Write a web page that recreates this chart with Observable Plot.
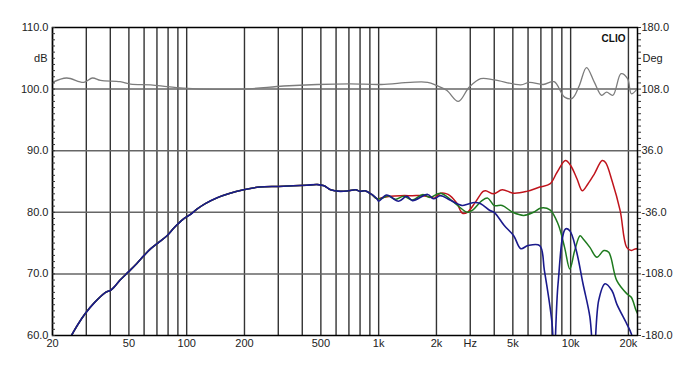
<!DOCTYPE html>
<html><head><meta charset="utf-8">
<script src="https://cdn.jsdelivr.net/npm/d3@7"></script>
<script src="https://cdn.jsdelivr.net/npm/@observablehq/plot@0.6"></script>
<style>body{margin:0;background:#fff}</style>
</head><body><div id="chart"></div>
<script>
// Shared low-frequency response (all three curves coincide)
const lowFreq = [24,25.1,27,29.7,33,37.8,40,42,45,50,55,60,65,72,79,86,96,104,113,125,144,165,198,240,300,360,420,480,520,562,630,700,760,800,850,920,980];
const lowDb   = [59.0,60.0,61.7,63.6,65.3,67.0,67.3,67.9,69.0,70.4,71.7,73.0,74.1,75.2,76.2,77.5,78.9,79.6,80.5,81.4,82.35,83.0,83.65,84.1,84.2,84.3,84.4,84.5,84.3,83.65,83.4,83.5,83.65,83.4,83.5,82.9,82.2];

const redFreq = [1050,1150,1300,1500,1700,1850,1950,2100,2300,2550,2730,2900,3200,3500,3612,3975,4400,5050,5900,6900,7800,8500,9400,10000,10800,11500,12300,13300,14600,15200,16400,18100,19600,20700,21900,22300];
const redDb   = [82.4,82.6,82.7,82.7,82.7,82.5,82.3,83.1,82.9,81.5,79.85,80.0,81.7,83.4,83.5,83.0,83.65,83.1,83.4,84.1,84.6,86.5,88.4,87.6,85.4,83.5,84.6,86.25,88.4,88.1,85.2,80.3,74.3,73.8,74.1,74.0];

const greenFreq = [1050,1120,1220,1350,1500,1700,1850,2100,2450,2900,3100,3450,3700,4000,4400,5000,5700,6400,7000,7800,8600,9300,9900,10500,11200,11600,12600,13700,14900,15800,17400,19600,20700,21900,22300];
const greenDb   = [82.3,82.7,82.1,82.6,82.0,82.9,82.4,83.1,81.7,80.0,80.4,81.9,82.3,81.1,81.1,80.0,79.5,80.0,80.7,80.4,78.1,74.3,70.8,73.8,76.2,75.7,74.3,72.7,73.8,73.5,68.9,66.8,66.2,64.1,63.6];

const blueFreq = [1000,1100,1270,1400,1500,1800,1930,2100,2350,2720,2900,3160,3400,3800,4000,4500,5050,5500,6000,6900,7300,8000,8200,8600,9400,9900,10700,11600,12600,13200,14000,15100,16400,17400,19600,20700,21500];
const blueDb   = [81.8,82.8,81.8,82.6,81.9,82.9,82.2,82.7,82.0,81.1,81.3,81.6,81.4,80.3,80.0,77.9,76.2,74.1,74.6,74.6,70.55,62.0,56.0,68.4,77.3,77.0,73.8,68.4,63.0,56.0,65.7,68.4,67.3,65.1,61.9,60.3,58.0];

// Gray (phase-like) trace, plotted on the dB scale
const grayFreq = [20,23.7,29.1,32.3,35.6,45,51,65,79,96,117,198,320,478,713,1030,1460,1800,2000,2260,2600,2960,3400,4000,5500,6100,7200,8200,9300,10200,11100,12100,13300,14500,15400,16600,18300,19800,20700,21900];
const grayDb   = [101.1,101.8,101.1,101.8,101.4,101.2,100.8,100.7,100.4,100.15,100.0,100.0,100.5,100.75,100.85,100.75,101.1,101.1,100.6,99.8,98.0,100.3,101.7,101.5,100.7,101.1,100.75,101.2,98.7,98.5,100.6,103.5,101.1,99.0,99.5,99.0,102.5,101.7,99.25,99.8];

const xTickValues = [20,50,100,200,500,1000,2000,3000,5000,10000,20000];
const xTickLabels = ["20","50","100","200","500","1k","2k","Hz","5k","10k","20k"];
const gridFreqs = [20,30,40,50,60,70,80,90,100,200,300,400,500,600,700,800,900,1000,2000,3000,4000,5000,6000,7000,8000,9000,10000,20000];
const yTicks = [60,70,80,90,100,110];
const yLabels = ["60.0","70.0","80.0","90.0","100.0","110.0"];
const degLabels = ["-180.0","-108.0","-36.0","36.0","108.0","180.0"];
const gridDb = [70,80,90,100];
const minorDb = d3.range(60,111,1);

const rows = (f, v) => f.map((d, i) => ({f: d, db: v[i]}));
const low = rows(lowFreq, lowDb);
const red = low.concat(rows(redFreq, redDb));
const green = low.concat(rows(greenFreq, greenDb));
const blue = low.concat(rows(blueFreq, blueDb));
const gray = rows(grayFreq, grayDb);
const xTicks = xTickValues.map((v, i) => ({v, label: xTickLabels[i]}));
const yLeft = yTicks.map((v, i) => ({v, label: yLabels[i]}));
const yRight = yTicks.map((v, i) => ({v, label: degLabels[i]}));

const chart = Plot.plot({
  width: 690, height: 389,
  marginLeft: 52, marginRight: 53, marginTop: 27, marginBottom: 54,
  style: {fontFamily: "'Liberation Sans', Arial, sans-serif", fontSize: "11px", color: "#222", background: "#fff"},
  x: {type: "log", domain: [20, 22300], label: null, axis: null},
  y: {domain: [60, 110], label: null, axis: null},
  marks: [
    Plot.ruleX(gridFreqs, {stroke: "#333", strokeWidth: 1.4}),
    Plot.ruleY(gridDb, {stroke: "#666", strokeWidth: 1.5}),
    Plot.line(gray, {x: "f", y: "db", stroke: "#7c7c7c", strokeWidth: 1.3, curve: "catmull-rom", clip: true}),
    Plot.line(red, {x: "f", y: "db", stroke: "#c0141c", strokeWidth: 1.5, curve: "catmull-rom", clip: true}),
    Plot.line(green, {x: "f", y: "db", stroke: "#1e7a1e", strokeWidth: 1.5, curve: "catmull-rom", clip: true}),
    Plot.line(blue, {x: "f", y: "db", stroke: "#1a1a8c", strokeWidth: 1.6, curve: "catmull-rom", clip: true}),
    Plot.frame({stroke: "#000", strokeWidth: 1.5}),
    Plot.axisY({anchor: "left", ticks: minorDb, tickSize: 3, dx: 3, tickFormat: () => "", label: null, stroke: "#333"}),
    Plot.axisY({anchor: "right", ticks: minorDb, tickSize: 3, tickFormat: () => "", label: null, stroke: "#333"}),
    Plot.text(yLeft, {y: "v", text: "label", frameAnchor: "left", dx: -4, textAnchor: "end", fill: "#222"}),
    Plot.text(yRight, {y: "v", text: "label", frameAnchor: "right", dx: 4, textAnchor: "start", fill: "#222"}),
    Plot.text(xTicks, {x: "v", text: "label", frameAnchor: "bottom", dy: 4, lineAnchor: "top", fill: "#222"}),
    Plot.text(["dB"], {x: 20, y: 105, dx: -5, textAnchor: "end", fill: "#222", fontSize: 11}),
    Plot.text(["Deg"], {x: 22300, y: 105, dx: 5, textAnchor: "start", fill: "#222", fontSize: 11}),
    Plot.text(["CLIO"], {frameAnchor: "top-right", dx: -12, dy: 7, textAnchor: "end", fontWeight: "bold", fontSize: 10, fill: "#111"})
  ]
});
document.getElementById("chart").append(chart);
</script>
</body></html>
